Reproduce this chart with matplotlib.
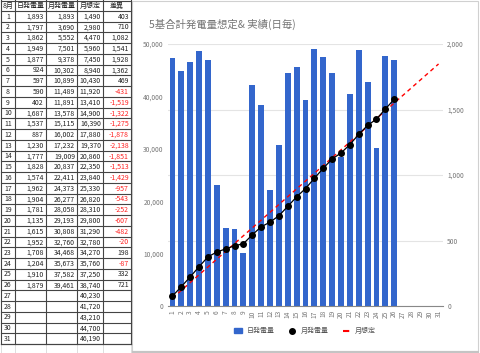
import matplotlib
matplotlib.use("Agg")
import matplotlib.pyplot as plt
from matplotlib.patches import Rectangle, Patch
from matplotlib.lines import Line2D

plt.rcParams["font.family"] = ["Noto Sans CJK JP", "DejaVu Sans"]

# data
days = list(range(1, 32))
daily = [1893, 1797, 1862, 1949, 1877, 924, 597, 590, 402, 1687, 1537, 887, 1230,
         1777, 1828, 1574, 1962, 1904, 1781, 1135, 1615, 1952, 1708, 1204, 1910, 1879]
cumulative = [1893, 3690, 5552, 7501, 9378, 10302, 10899, 11489, 11891, 13578, 15115,
              16002, 17232, 19009, 20837, 22411, 24373, 26277, 28058, 29193, 30808,
              32760, 34468, 35673, 37582, 39461]
plan = [1490, 2980, 4470, 5960, 7450, 8940, 10430, 11920, 13410, 14900, 16390, 17880,
        19370, 20860, 22350, 23840, 25330, 26820, 28310, 29800, 31290, 32780, 34270,
        35760, 37250, 38740, 40230, 41720, 43210, 44700, 46190]
diff = [403, 710, 1082, 1541, 1928, 1362, 469, -431, -1519, -1322, -1275, -1878, -2138,
        -1851, -1513, -1429, -957, -543, -252, -607, -482, -20, 198, -87, 332, 721]
headers = ["8月", "日発電量", "月発電量", "月想定", "差異"]

W, H = 480, 353
fig = plt.figure(figsize=(W / 100, H / 100), dpi=100)

# ---- spreadsheet table (pixel coords) ----
tab = fig.add_axes([0, 0, 1, 1])
tab.set_xlim(0, W)
tab.set_ylim(H, 0)
tab.axis("off")

col_x = [1, 15, 46, 77, 103, 131]
head_h = 11
row_h = (344 - head_h) / 31
fs = 5

# faint sheet grid below the table
for x in col_x:
    tab.plot([x, x], [344, H], color="#d8d8d8", lw=0.6)

for i, h in enumerate(headers):
    tab.text((col_x[i] + col_x[i + 1]) / 2, head_h / 2 + 0.5, h, ha="center",
             va="center", fontsize=fs, color="#222")

for r in range(31):
    y0 = head_h + r * row_h
    yc = y0 + row_h / 2 + 0.3
    tab.text((col_x[0] + col_x[1]) / 2, yc, str(days[r]), ha="center", va="center",
             fontsize=fs, color="#222")
    vals = [daily[r] if r < len(daily) else None,
            cumulative[r] if r < len(cumulative) else None,
            plan[r],
            diff[r] if r < len(diff) else None]
    for c, v in enumerate(vals):
        if v is None:
            continue
        color = "#ff2020" if (c == 3 and v < 0) else "#222"
        tab.text(col_x[c + 2] - 2, yc, f"{v:,}", ha="right", va="center",
                 fontsize=fs, color=color)

# borders
for r in range(32):
    y = head_h + r * row_h if r > 0 else head_h
    tab.plot([col_x[0], col_x[-1]], [y, y], color="#444", lw=0.8)
tab.plot([col_x[0], col_x[-1]], [344, 344], color="#444", lw=0.8)
tab.plot([col_x[0], col_x[-1]], [0.5, 0.5], color="#444", lw=0.8)
for x in col_x:
    tab.plot([x, x], [0, 344], color="#444", lw=0.8)

# chart panel frame
tab.add_patch(Rectangle((132, 1), 346, 350, fill=False, ec="#d0d0d0", lw=0.8))
tab.plot([133, 478], [351.5, 351.5], color="#c4c4c4", lw=1.5)
tab.text(149, 24, "5基合計発電量想定& 実績(日毎)", ha="left", va="center",
         fontsize=7.5, color="#757575")

# ---- chart ----
l, r_, t, b = 168, 443, 44, 306
ax = fig.add_axes([l / W, (H - b) / H, (r_ - l) / W, (b - t) / H])
ax.bar(days[:len(daily)], daily, width=0.66, color="#3366cc", zorder=2)
ax.set_xlim(0.5, 31.5)
ax.set_ylim(0, 2000)
ax.grid(axis="y", color="#e4e4e4", lw=0.8)
ax.set_axisbelow(True)
ax.set_xticks(days)
ax.set_xticklabels([str(d) for d in days], rotation=90)
for s in ["top", "left", "right"]:
    ax.spines[s].set_visible(False)
ax.spines["bottom"].set_color("#888")

ax2 = ax.twinx()
ax2.plot(days, plan, color="#ff0000", lw=1, ls=(0, (3, 2.5)), zorder=3)
ax2.plot(days[:len(cumulative)], cumulative, color="#000", lw=0.9, marker="o",
         ms=4, zorder=4)
ax2.set_ylim(0, 50000)
ax2.set_yticks([0, 10000, 20000, 30000, 40000, 50000])
ax2.set_yticklabels(["0", "10,000", "20,000", "30,000", "40,000", "50,000"])
ax2.yaxis.tick_left()
for s in ax2.spines.values():
    s.set_visible(False)
ax2.tick_params(length=0, labelsize=4.8, labelcolor="#777", pad=3)

# bar axis ticks on the right (after twinx, which resets them)
ax.yaxis.tick_right()
ax.set_yticks([0, 500, 1000, 1500, 2000])
ax.set_yticklabels(["0", "500", "1,000", "1,500", "2,000"])
ax.tick_params(length=0, labelsize=4.8, labelcolor="#777", pad=3)

handles = [Patch(color="#3366cc"),
           Line2D([], [], color="#000", marker="o", ls="none", ms=4),
           Line2D([], [], color="#ff0000", ls=(0, (3, 2.5)), lw=1.5)]
fig.legend(handles, ["日発電量", "月発電量", "月想定"], loc="center",
           bbox_to_anchor=(305 / W, (H - 331) / H), ncol=3, frameon=False,
           fontsize=5, handlelength=1.2, columnspacing=2.0, handletextpad=0.6,
           labelcolor="#555")

fig.savefig("out.png", dpi=100)
